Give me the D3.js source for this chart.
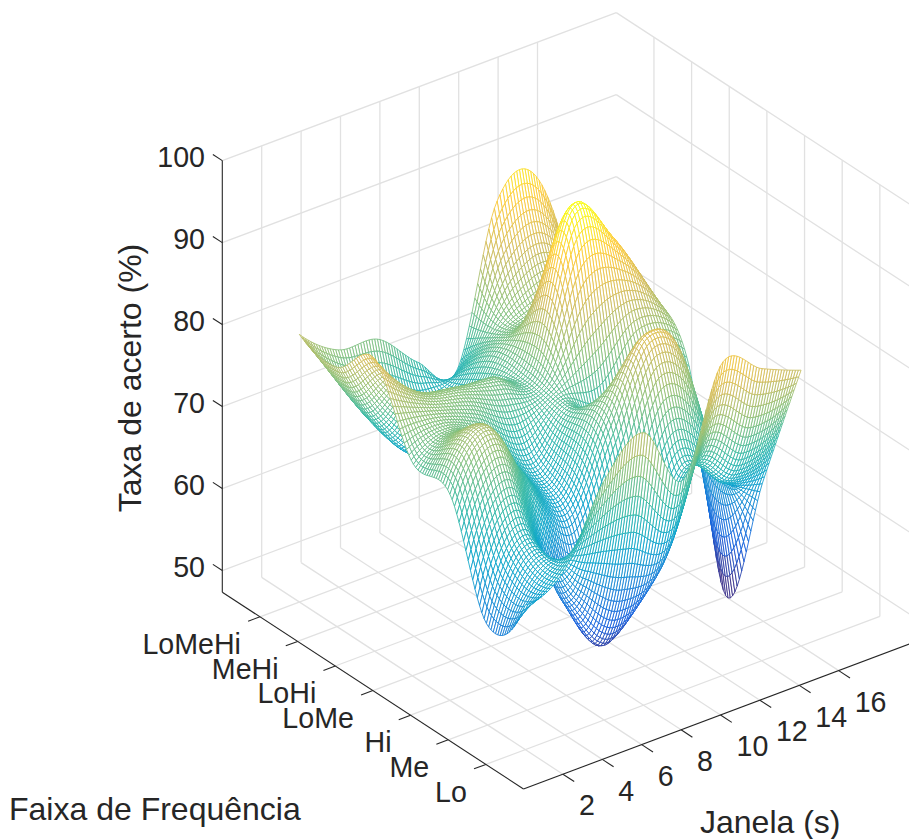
<!DOCTYPE html>
<html><head><meta charset="utf-8">
<script src="https://cdn.jsdelivr.net/npm/d3@7"></script>
<style>html,body{margin:0;padding:0;background:#fff;overflow:hidden}svg{display:block}text{font-family:"Liberation Sans",Arial,sans-serif;fill:#262626}</style>
</head><body><svg id="c" width="909" height="839"></svg>
<script>
// chart values
const janela = [2,4,6,8,10,12,14,16];
const faixaLabels = ["Lo","Me","Hi","LoMe","LoHi","MeHi","LoMeHi"];
const faixaPos = [1,2,3,4,5,6,7];
const lo     = [65.0,67.5,76.5,80.6,73.0,85.5,83.0,81.0];
const me     = [59.5,68.5,58.5,51.8,58.0,69.5,66.0,64.6];
const hi     = [72.5,78.5,70.0,64.0,74.0,83.0,77.0,47.5];
const loMe   = [73.4,75.5,72.5,68.0,73.0,68.0,75.0,73.0];
const loHi   = [83.0,77.3,75.9,75.3,74.4,92.0,87.3,77.6];
const meHi   = [79.0,70.0,64.7,66.0,74.0,76.0,76.0,72.0];
const loMeHi = [80.0,76.3,75.8,71.2,68.4,87.0,88.5,72.0];
const zTicks = [50,60,70,80,90,100];
const xTicks = [2,4,6,8,10,12,14,16];
const xDomain=[0,20], yDomain=[0,8], zDomain=[47.36,100];
const colorRange=[50,92];
const parula = ["#352A87","#0F5CDD","#1481D6","#06A4CA","#2EB7A4","#87BF77","#D1BB59","#FEC832","#F9FB0E"];

const rows=[lo,me,hi,loMe,loHi,meHi,loMeHi];
const svg=d3.select("#c");
const xH=d3.scaleLinear(xDomain,[0,394]), xV=d3.scaleLinear(xDomain,[0,-148]);
const yH=d3.scaleLinear(yDomain,[0,-301.2]), yV=d3.scaleLinear(yDomain,[0,-196.8]);
const zV=d3.scaleLinear(zDomain,[0,-431.6]);
const ox=523.5, oy=789;
const P=(x,y,z)=>[ox+xH(x)+yH(y), oy+xV(x)+yV(y)+zV(z)];

// Keys cubic convolution through the read values, like MATLAB interp2 'cubic'
function cubic(xs,ys){
  const n=ys.length,h=xs[1]-xs[0];
  const f=i=>i<0?3*ys[0]-3*ys[1]+ys[2]:i>=n?3*ys[n-1]-3*ys[n-2]+ys[n-3]:ys[i];
  return q=>{const i=Math.min(n-2,Math.floor((q-xs[0])/h)),t=(q-xs[0])/h-i;
    const a=f(i-1),b=f(i),c=f(i+1),d=f(i+2);
    return b+0.5*t*(c-a+t*(2*a-5*b+4*c-d+t*(3*(b-c)+d-a)));};
}
const xq=d3.range(100).map(i=>2+i*14/99), yq=d3.range(100).map(i=>1+i*6/99);
const rowFine=rows.map(r=>{const s=cubic(janela,r);return xq.map(s);});
const Z=yq.map(()=>new Array(xq.length));
xq.forEach((_,j)=>{const s=cubic(faixaPos,rowFine.map(r=>r[j]));yq.forEach((y,i)=>Z[i][j]=s(y));});
const cScale=d3.scaleLinear().domain(parula.map((_,i)=>colorRange[0]+i/(parula.length-1)*(colorRange[1]-colorRange[0]))).range(parula).clamp(true);

const grid=svg.append("g").attr("stroke","#e1e1e1").attr("stroke-width",1.3).attr("fill","none");
const seg=(g,a,b)=>g.append("line").attr("x1",a[0]).attr("y1",a[1]).attr("x2",b[0]).attr("y2",b[1]);
xTicks.forEach(t=>{seg(grid,P(t,0,zDomain[0]),P(t,8,zDomain[0]));seg(grid,P(t,8,zDomain[0]),P(t,8,100));});
faixaPos.forEach(t=>{seg(grid,P(0,t,zDomain[0]),P(20,t,zDomain[0]));seg(grid,P(20,t,zDomain[0]),P(20,t,100));});
zTicks.forEach(t=>{seg(grid,P(0,8,t),P(20,8,t));seg(grid,P(20,8,t),P(20,0,t));});

const quads=[];
for(let i=yq.length-2;i>=0;i--)for(let j=xq.length-2;j>=0;j--)quads.push([i,j]);
const line=d3.line();
svg.append("g").selectAll("path").data(quads).join("path")
 .attr("d",([i,j])=>line([P(xq[j],yq[i],Z[i][j]),P(xq[j+1],yq[i],Z[i][j+1]),P(xq[j+1],yq[i+1],Z[i+1][j+1]),P(xq[j],yq[i+1],Z[i+1][j])])+"Z")
 .attr("fill","#fff").attr("stroke-width",0.85).attr("stroke-linejoin","round")
 .attr("stroke",([i,j])=>cScale((Z[i][j]+Z[i][j+1]+Z[i+1][j]+Z[i+1][j+1])/4));

const ax=svg.append("g").attr("stroke","#262626").attr("stroke-width",1.1).attr("fill","none");
seg(ax,P(0,0,zDomain[0]),P(20,0,zDomain[0]));
seg(ax,P(0,0,zDomain[0]),P(0,8,zDomain[0]));
seg(ax,P(0,8,zDomain[0]),P(0,8,100));
xTicks.forEach(t=>seg(ax,P(t,0,zDomain[0]),P(t,-0.3,zDomain[0])));
faixaPos.forEach(t=>seg(ax,P(0,t,zDomain[0]),P(-0.6,t,zDomain[0])));
zTicks.forEach(t=>seg(ax,P(0,8,t),P(0,8.25,t)));

const T=svg.append("g");
const fs=28.6;
zTicks.forEach(t=>{const p=P(0,8,t);T.append("text").attr("x",205).attr("y",p[1]-4+fs*0.36).attr("text-anchor","end").attr("font-size",fs).text(t);});
xTicks.forEach(t=>{const p=P(t,0,zDomain[0]);T.append("text").attr("x",p[0]+16).attr("y",p[1]+31+fs*0.36).attr("font-size",fs).text(t);});
faixaLabels.forEach((l,i)=>{const p=P(0,faixaPos[i],zDomain[0]);T.append("text").attr("x",p[0]-19).attr("y",p[1]+27+fs*0.36).attr("text-anchor","end").attr("font-size",fs).text(l);});
T.append("text").attr("x",9).attr("y",820).attr("font-size",32).text("Faixa de Frequência");
T.append("text").attr("x",700).attr("y",833).attr("font-size",32).text("Janela (s)");
T.append("text").attr("transform","translate(141,378) rotate(-90)").attr("text-anchor","middle").attr("font-size",32).text("Taxa de acerto (%)");
</script></body></html>
